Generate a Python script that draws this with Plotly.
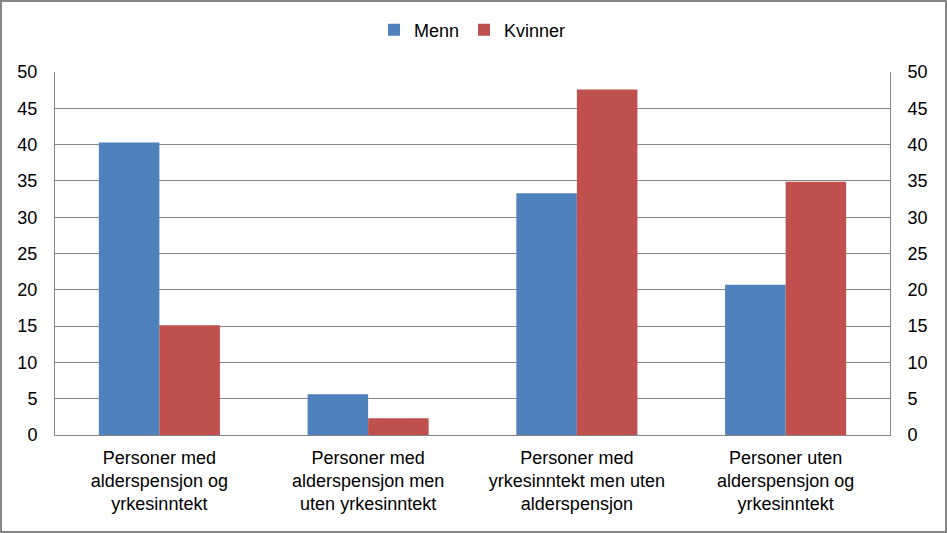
import plotly.graph_objects as go

categories = [
    "Personer med<br>alderspensjon og<br>yrkesinntekt",
    "Personer med<br>alderspensjon men<br>uten yrkesinntekt",
    "Personer med<br>yrkesinntekt men uten<br>alderspensjon",
    "Personer uten<br>alderspensjon og<br>yrkesinntekt",
]
menn = [40.3, 5.6, 33.3, 20.7]
kvinner = [15.1, 2.3, 47.6, 34.9]
tick_vals = [0, 5, 10, 15, 20, 25, 30, 35, 40, 45, 50]

W, H = 947, 533
ML, MR, MT, MB = 55, 57, 72, 98
PW, PH = W - ML - MR, H - MT - MB

fig = go.Figure()
fig.add_trace(go.Bar(name="Menn", x=categories, y=menn, marker=dict(color="#4F81BD", line=dict(width=0))))
fig.add_trace(go.Bar(name="Kvinner", x=categories, y=kvinner, marker=dict(color="#C0504D", line=dict(width=0))))
fig.add_trace(go.Scatter(x=categories, y=menn, yaxis="y2", mode="markers",
                         marker=dict(opacity=0), showlegend=False, hoverinfo="skip"))

font = dict(family="Liberation Sans, Arial, sans-serif", size=18, color="#000000")
axis_common = dict(range=[0, 50], tickvals=tick_vals, tickfont=font, showline=True,
                   linecolor="#868686", linewidth=1, ticks="", zeroline=False,
                   ticklabelstandoff=13)

fig.update_layout(
    width=W, height=H,
    margin=dict(l=ML, r=MR, t=MT, b=MB, pad=0),
    paper_bgcolor="white", plot_bgcolor="white",
    barmode="group", bargap=0.42, bargroupgap=0,
    font=font,
    legend=dict(orientation="h", x=0.5, xanchor="center", y=1 + 42 / PH, yanchor="middle",
                font=font, itemwidth=30, tracegroupgap=0),
    xaxis=dict(showline=True, linecolor="#868686", linewidth=1, tickfont=font, ticks="",
               showgrid=False, ticklabelstandoff=6),
    yaxis=dict(**axis_common, showgrid=True, gridcolor="#868686", gridwidth=1),
    yaxis2=dict(**axis_common, overlaying="y", side="right", showgrid=False),
    shapes=[dict(type="rect", xref="paper", yref="paper",
                 x0=-(ML - 1) / PW, x1=1 + (MR - 1) / PW,
                 y0=-(MB - 1) / PH, y1=1 + (MT - 1) / PH,
                 line=dict(color="#868686", width=2), fillcolor="rgba(0,0,0,0)", layer="above")],
)
fig.write_html("out.html")
